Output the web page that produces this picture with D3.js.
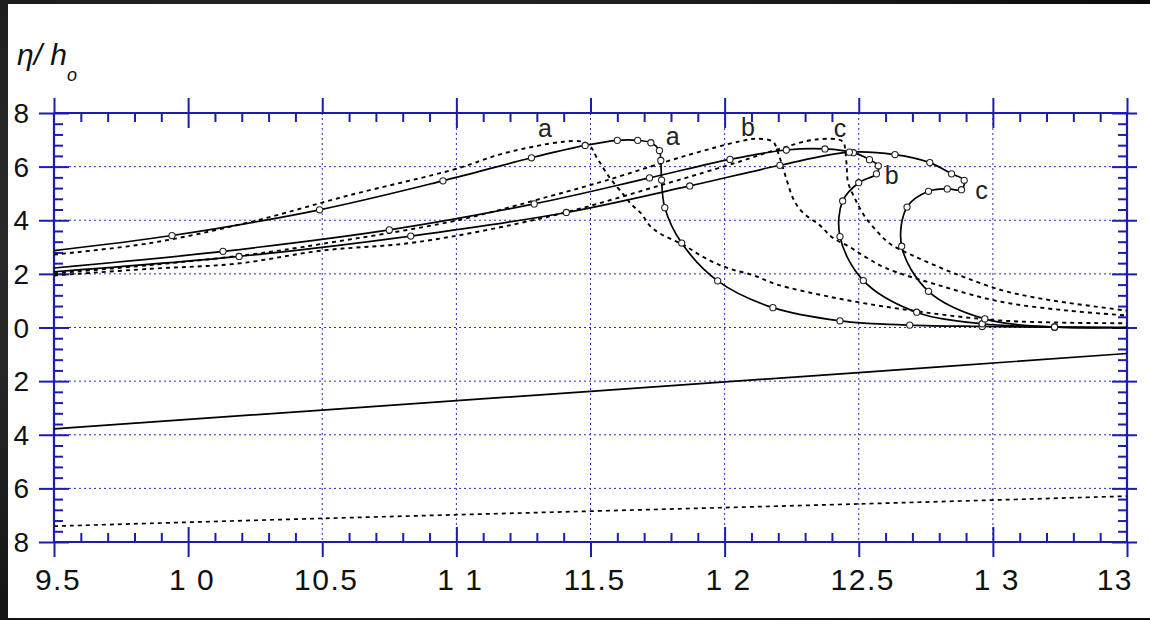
<!DOCTYPE html>
<html>
<head>
<meta charset="utf-8">
<script src="https://cdn.jsdelivr.net/npm/d3@7"></script>
<style>
html,body{margin:0;padding:0;background:#111;}
svg{display:block;}
</style>
</head>
<body>
<svg id="chart" width="1150" height="620"></svg>
<script>
// ---------- data ----------
const xTickValues = [9.5, 10, 10.5, 11, 11.5, 12, 12.5, 13, 13.5];
const xTickLabels = ["9.5", "1 0", "10.5", "1 1", "11.5", "1 2", "12.5", "1 3", "13"];
const yTickValues = [8, 6, 4, 2, 0, -2, -4, -6, -8];
const yTickLabels = ["8", "6", "4", "2", "0", "2", "4", "6", "8"];
const xGridValues = [10.5, 11, 11.5, 12, 12.5, 13];
const yGridValues = [6, 4, 2, 0, -2, -4, -6];

// measured (solid, with circle markers)
const measuredA = [[9.5,2.87],[9.94,3.43],[10.49,4.39],[10.95,5.47],[11.28,6.33],[11.48,6.79],[11.60,6.98],[11.676,6.98],[11.725,6.89],[11.757,6.6],[11.762,6.23],[11.765,5.5],[11.777,4.47],[11.84,3.15],[11.974,1.74],[12.18,0.74],[12.43,0.25],[12.69,0.09],[12.96,0.04],[13.23,0.01],[13.5,0.0]];
const measuredB = [[9.5,2.22],[10.13,2.84],[10.75,3.64],[11.29,4.61],[11.72,5.58],[12.02,6.27],[12.23,6.62],[12.374,6.66],[12.48,6.52],[12.54,6.26],[12.573,6.03],[12.566,5.73],[12.50,5.40],[12.44,4.72],[12.43,3.39],[12.517,1.75],[12.716,0.57],[12.96,0.14],[13.23,0.02],[13.5,0.0]];
const measuredC = [[9.5,2.08],[10.19,2.65],[10.83,3.41],[11.41,4.29],[11.87,5.28],[12.206,6.05],[12.465,6.54],[12.635,6.45],[12.765,6.15],[12.846,5.73],[12.893,5.49],[12.883,5.14],[12.83,5.17],[12.76,5.08],[12.68,4.49],[12.66,3.03],[12.76,1.35],[12.97,0.32],[13.23,0.02],[13.5,0.0]];

// computed (dotted, no markers)
const computedA = [[9.5,2.72],[9.86,3.15],[10.23,3.93],[10.6,4.93],[11.0,5.92],[11.16,6.45],[11.29,6.75],[11.40,6.93],[11.47,6.93],[11.50,6.75],[11.52,6.40],[11.57,5.61],[11.62,4.99],[11.65,4.62],[11.69,4.24],[11.72,3.81],[11.76,3.50],[11.85,3.06],[11.91,2.69],[11.97,2.38],[12.03,2.16],[12.11,1.94],[12.19,1.62],[12.40,1.13],[12.65,0.70],[13.03,0.26],[13.5,0.16]];
const computedB = [[9.5,2.02],[9.86,2.33],[10.23,2.72],[10.5,3.12],[11.0,3.99],[11.35,4.9],[11.56,5.49],[11.86,6.42],[12.06,6.95],[12.12,7.04],[12.18,6.93],[12.20,6.5],[12.215,6.04],[12.23,5.55],[12.256,4.80],[12.29,4.30],[12.355,3.81],[12.40,3.37],[12.467,3.0],[12.53,2.6],[12.60,2.22],[12.80,1.57],[13.03,0.96],[13.28,0.63],[13.5,0.45]];
const computedC = [[9.5,1.94],[9.86,2.19],[10.18,2.38],[10.5,2.87],[10.85,3.18],[11.35,4.15],[11.76,5.3],[12.06,6.2],[12.2,6.65],[12.34,7.01],[12.44,6.94],[12.45,6.54],[12.455,6.04],[12.46,5.42],[12.486,4.80],[12.52,4.18],[12.567,3.6],[12.617,3.12],[12.70,2.69],[12.80,2.25],[12.9,1.85],[13.03,1.4],[13.15,1.13],[13.28,0.92],[13.5,0.63]];

// bottom profiles
const bottomSolid = [[9.5,-3.78],[10.5,-3.08],[12.5,-1.68],[13.5,-0.97]];
const bottomDotted = [[9.5,-7.41],[10.5,-7.12],[12.5,-6.58],[13.5,-6.29]];

// curve letters (data coordinates of label centre / baseline)
const curveLabelText = ["a","a","b","b","c","c"];
const curveLabelX = [11.33, 11.806, 12.087, 12.623, 12.43, 12.958];
const curveLabelY = [7.09, 6.79, 7.13, 5.36, 7.1, 4.8];

// ---------- drawing ----------
const W = 1150, H = 620;
const svg = d3.select("#chart");
const axisColor = "#1c1cb0";
const gridColor = "#2a2ac4";
const font = "'Liberation Sans', Arial, Helvetica, sans-serif";

// background
const defs = svg.append("defs");
const rg = defs.append("radialGradient").attr("id","bg").attr("cx","0.3").attr("cy","0.4").attr("r","0.8");
rg.append("stop").attr("offset","0").attr("stop-color","#3a3a3a");
rg.append("stop").attr("offset","1").attr("stop-color","#0c0c0c");
svg.append("rect").attr("width",W).attr("height",H).attr("fill","url(#bg)");
svg.append("rect").attr("x",8).attr("y",4).attr("width",W-8).attr("height",614).attr("fill","#ffffff");

const x = d3.scaleLinear().domain([9.5,13.5]).range([54,1127]);
const y = d3.scaleLinear().domain([-8,8]).range([542,113]);

// grid
const grid = svg.append("g");
grid.selectAll("line.gx").data(xGridValues).join("line")
  .attr("x1",d=>x(d)).attr("x2",d=>x(d)).attr("y1",y(8)).attr("y2",y(-8))
  .attr("stroke",gridColor).attr("stroke-width",1).attr("stroke-dasharray","2,3");
grid.selectAll("line.gy").data(yGridValues).join("line")
  .attr("x1",x(9.5)).attr("x2",x(13.5)).attr("y1",d=>y(d)).attr("y2",d=>y(d))
  .attr("stroke",gridColor).attr("stroke-width",1).attr("stroke-dasharray","2,3");

// axes helpers
function styleAxis(g){
  g.select(".domain").remove();
  g.selectAll("line").attr("stroke",axisColor).attr("stroke-width",2);
  g.selectAll("text").remove();
}
const minorX = d3.range(9.5,13.5001,0.1).map(v=>+v.toFixed(2)).filter(v=>Math.abs(v*2-Math.round(v*2))>1e-6);
const intX = [10,11,12,13];
const minorY = d3.range(-8,8.001,0.4).map(v=>+v.toFixed(2)).filter(v=>Math.abs(v/2-Math.round(v/2))>1e-6);

const axes = svg.append("g");
// bottom
axes.append("g").attr("transform",`translate(0,${y(-8)})`).call(d3.axisBottom(x).tickValues(minorX).tickSize(-9).tickSizeOuter(0)).call(styleAxis);
axes.append("g").attr("transform",`translate(0,${y(-8)})`).call(d3.axisBottom(x).tickValues(intX).tickSize(-15).tickSizeOuter(0)).call(styleAxis);
axes.append("g").attr("transform",`translate(0,${y(-8)})`).call(d3.axisBottom(x).tickValues(xTickValues).tickSize(15).tickSizeOuter(0)).call(styleAxis);
// top
axes.append("g").attr("transform",`translate(0,${y(8)})`).call(d3.axisTop(x).tickValues(minorX).tickSize(-9).tickSizeOuter(0)).call(styleAxis);
axes.append("g").attr("transform",`translate(0,${y(8)})`).call(d3.axisTop(x).tickValues(intX).tickSize(-15).tickSizeOuter(0)).call(styleAxis);
axes.append("g").attr("transform",`translate(0,${y(8)})`).call(d3.axisTop(x).tickValues(xTickValues).tickSize(15).tickSizeOuter(0)).call(styleAxis);
// left
axes.append("g").attr("transform",`translate(${x(9.5)},0)`).call(d3.axisLeft(y).tickValues(minorY).tickSize(-9).tickSizeOuter(0)).call(styleAxis);
axes.append("g").attr("transform",`translate(${x(9.5)},0)`).call(d3.axisLeft(y).tickValues(yTickValues).tickSize(15).tickSizeOuter(0)).call(styleAxis);
axes.append("g").attr("transform",`translate(${x(9.5)},0)`).call(d3.axisLeft(y).tickValues(yTickValues).tickSize(-15).tickSizeOuter(0)).call(styleAxis);
// right
axes.append("g").attr("transform",`translate(${x(13.5)},0)`).call(d3.axisRight(y).tickValues(minorY).tickSize(-9).tickSizeOuter(0)).call(styleAxis);
axes.append("g").attr("transform",`translate(${x(13.5)},0)`).call(d3.axisRight(y).tickValues(yTickValues).tickSize(10).tickSizeOuter(0)).call(styleAxis);
axes.append("g").attr("transform",`translate(${x(13.5)},0)`).call(d3.axisRight(y).tickValues(yTickValues).tickSize(-15).tickSizeOuter(0)).call(styleAxis);

// frame
const frame = svg.append("g").attr("stroke",axisColor).attr("stroke-width",2.2).attr("fill","none");
frame.append("line").attr("x1",x(9.5)).attr("x2",x(13.5)).attr("y1",y(8)).attr("y2",y(8));
frame.append("line").attr("x1",x(9.5)).attr("x2",x(13.5)).attr("y1",y(-8)).attr("y2",y(-8));
frame.append("line").attr("x1",x(9.5)).attr("x2",x(9.5)).attr("y1",y(8)).attr("y2",y(-8));
frame.append("line").attr("x1",x(13.5)).attr("x2",x(13.5)).attr("y1",y(8)).attr("y2",y(-8));

// tick labels
const xl = svg.append("g").attr("font-family",font).attr("font-size",30).attr("fill","#111");
xl.selectAll("text").data(xTickValues).join("text")
  .attr("x",(d,i)=> i===xTickValues.length-1 ? x(d)+6 : x(d)+4)
  .attr("y",590)
  .attr("text-anchor",(d,i)=> i===xTickValues.length-1 ? "end" : "middle")
  .attr("letter-spacing","1.5px")
  .attr("xml:space","preserve")
  .style("white-space","pre")
  .text((d,i)=>xTickLabels[i]);

const yl = svg.append("g").attr("font-family",font).attr("font-size",28).attr("fill","#111");
yl.selectAll("text").data(yTickValues).join("text")
  .attr("x",29).attr("y",d=>y(d)).attr("dy","0.36em").attr("text-anchor","end")
  .text((d,i)=>yTickLabels[i]);

// axis title
const t = svg.append("text").attr("font-family",font).attr("font-style","italic").attr("fill","#111")
  .attr("x",17).attr("y",65).attr("font-size",30).style("white-space","pre");
t.append("tspan").text("η/ h");
t.append("tspan").attr("x",67).attr("y",81).attr("font-size",18).text("o");

// curves
const line = d3.line().x(d=>x(d[0])).y(d=>y(d[1])).curve(d3.curveCatmullRom.alpha(0.5));
const plot = svg.append("g");

function dotted(data, w){
  plot.append("path").attr("d",line(data)).attr("fill","none")
    .attr("stroke","#000").attr("stroke-width",w||1.9).attr("stroke-dasharray","4,4");
}
function solid(data){
  plot.append("path").attr("d",line(data)).attr("fill","none")
    .attr("stroke","#000").attr("stroke-width",1.7);
}
dotted(computedA); dotted(computedB); dotted(computedC);
dotted(bottomDotted,1.7);
solid(bottomSolid);
solid(measuredA); solid(measuredB); solid(measuredC);

[measuredA, measuredB, measuredC].forEach(arr=>{
  plot.selectAll(null).data(arr.slice(1,-1)).join("circle")
    .attr("cx",d=>x(d[0])).attr("cy",d=>y(d[1])).attr("r",3.1)
    .attr("fill","#fff").attr("stroke","#222").attr("stroke-width",1.1);
});

// curve letters
svg.append("g").attr("font-family",font).attr("font-size",25).attr("fill","#222")
  .selectAll("text").data(curveLabelText).join("text")
  .attr("x",(d,i)=>x(curveLabelX[i])).attr("y",(d,i)=>y(curveLabelY[i]))
  .attr("text-anchor","middle").text(d=>d);
</script>
</body>
</html>
